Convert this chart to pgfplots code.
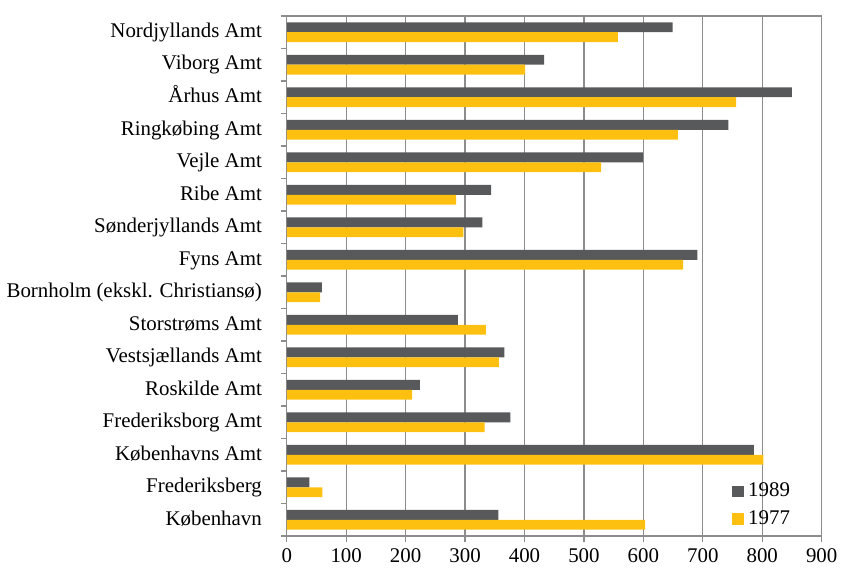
\documentclass[border=0pt]{standalone}
\usepackage{fontspec}
\setmainfont{Liberation Serif}
\usepackage{pgfplots}
\pgfplotsset{compat=1.18}
\definecolor{darkbar}{RGB}{88,89,91}
\definecolor{goldbar}{RGB}{253,192,16}
\definecolor{gridc}{RGB}{140,140,140}
\begin{document}
\begin{tikzpicture}
\begin{axis}[
  xbar,
  scale only axis,
  width=269pt, height=261.5pt,
  xmin=0, xmax=900,
  ymin=-0.5, ymax=15.5,
  y dir=reverse,
  xtick={0,100,...,900},
  ytick={-0.5,0.5,...,15.5},
  yticklabels={},
  extra y ticks={0,...,15},
  extra y tick labels={Nordjyllands Amt,Viborg Amt,Århus Amt,Ringkøbing Amt,Vejle Amt,Ribe Amt,Sønderjyllands Amt,Fyns Amt,Bornholm (ekskl. Christiansø),Storstrøms Amt,Vestsjællands Amt,Roskilde Amt,Frederiksborg Amt,Københavns Amt,Frederiksberg,København},
  extra y tick style={grid=none, major tick length=0pt},
  tick align=outside,
  major tick length=3pt,
  tick style={draw=gridc, line width=0.6pt},
  xtick pos=bottom, ytick pos=left,
  xmajorgrids,
  grid style={gridc, line width=0.6pt},
  axis line style={gridc, line width=0.6pt},
  tick label style={font=\fontsize{10.5}{12}\selectfont},
  yticklabel style={xshift=-9pt, text height=1.6ex, text depth=0.45ex},
  /pgf/number format/assume math mode=true,
  bar width=5pt,
  legend style={at={(0.96,0.0)}, anchor=south east, draw=none, fill=none,
    font=\fontsize{10.5}{12}\selectfont, row sep=1.5pt},
  legend cell align=left,
  legend image code/.code={\fill[#1] (0pt,-3pt) rectangle (6pt,3pt);},
]
\addplot[fill=darkbar, draw=none, bar shift=2.5pt] coordinates {
(649,0) (433,1) (850,2) (743,3) (599,4) (344,5) (329,6) (691,7) (59,8) (288,9) (366,10) (224,11) (376,12) (786,13) (38,14) (356,15)};
\addplot[fill=goldbar, draw=none, bar shift=-2.5pt] coordinates {
(557,0) (401,1) (756,2) (658,3) (529,4) (285,5) (297,6) (667,7) (56,8) (335,9) (357,10) (211,11) (333,12) (802,13) (60,14) (603,15)};
\legend{1989,1977}
\end{axis}
\path (current axis.north) ++(0,7pt);
\end{tikzpicture}
\end{document}
